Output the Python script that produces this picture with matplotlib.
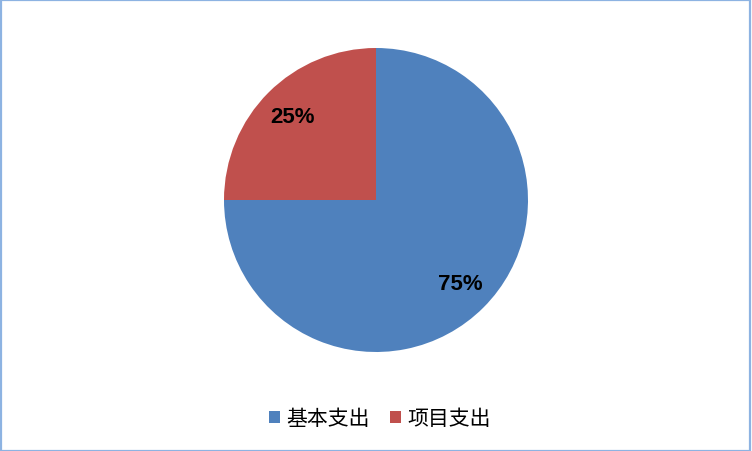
import matplotlib
matplotlib.use('Agg')
import matplotlib.pyplot as plt
from matplotlib.patches import Rectangle

plt.rcParams['font.family'] = ['Noto Sans CJK SC', 'DejaVu Sans']

# Data
labels = ['基本支出', '项目支出']
values = [75, 25]
colors = ['#4F81BD', '#C0504D']

fig = plt.figure(figsize=(7.52, 4.52), dpi=100)

# pie area: center ~(376, 201) px, radius ~152 px
ax = fig.add_axes([224 / 752, 99 / 452, 304 / 752, 304 / 452])
wedges, texts, autotexts = ax.pie(values, colors=colors, startangle=90, counterclock=False,
                                  autopct='%d%%', pctdistance=0.78, radius=1,
                                  textprops=dict(fontsize=16, fontweight='bold',
                                                 family=['Liberation Sans'], color='black'))
ax.set_xlim(-1, 1)
ax.set_ylim(-1, 1)
ax.set_aspect('equal')

leg = fig.legend(wedges, labels, loc='center', bbox_to_anchor=(380 / 752, 1 - 419 / 452),
                 ncol=2, frameon=False, fontsize=15, handlelength=0.5, handleheight=0.5,
                 handletextpad=0.3, columnspacing=1.0)

# light blue frame around the chart
fig.patches.append(Rectangle((0.001, 0.001), 0.997, 0.996, transform=fig.transFigure,
                             fill=False, edgecolor='#8DB3E2', linewidth=1.6))

fig.savefig('out.png', dpi=100)
